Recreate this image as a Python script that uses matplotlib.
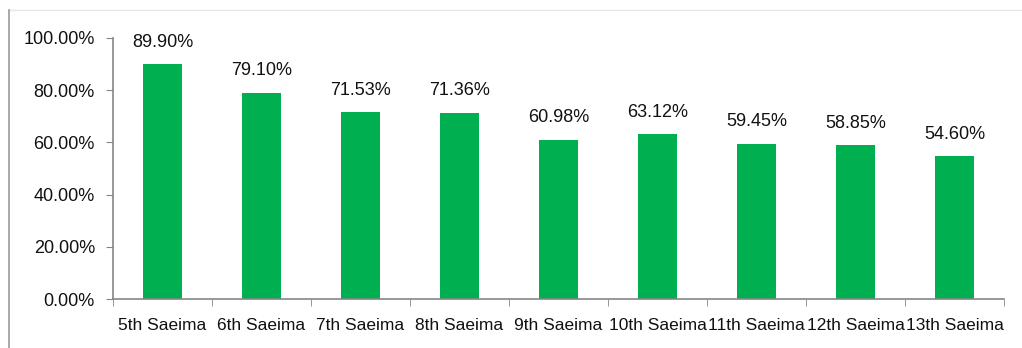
import matplotlib.pyplot as plt
from matplotlib.lines import Line2D
from matplotlib.ticker import FixedLocator, PercentFormatter

# Data
saeimas = ['5th Saeima', '6th Saeima', '7th Saeima', '8th Saeima', '9th Saeima',
           '10th Saeima', '11th Saeima', '12th Saeima', '13th Saeima']
turnout = [89.90, 79.10, 71.53, 71.36, 60.98, 63.12, 59.45, 58.85, 54.60]
y_ticks = [0, 20, 40, 60, 80, 100]

plt.rcParams['font.family'] = ['Liberation Sans Narrow', 'Liberation Sans', 'DejaVu Sans']
plt.rcParams['font.size'] = 12

fig = plt.figure(figsize=(10.22, 3.48), dpi=100)
ax = fig.add_axes([113 / 1022, 1 - 299 / 348, (1004 - 113) / 1022, (299 - 38) / 348])

x = range(len(saeimas))
ax.bar(x, turnout, width=0.4, color='#00B050')

# value labels above the bars
for xi, v in zip(x, turnout):
    ax.text(xi, v + 8.5, f'{v:.2f}%', ha='center', va='center', fontsize=13, color='#111111')

ax.set_xlim(-0.5, len(saeimas) - 0.5)
ax.set_ylim(0, 100)
ax.set_yticks(y_ticks)
ax.yaxis.set_major_formatter(PercentFormatter(decimals=2))

# category labels between boundary ticks
ax.set_xticks(list(x))
ax.set_xticklabels(saeimas)
ax.tick_params(axis='x', which='major', length=0, pad=14, labelsize=12.5, labelcolor='#111111')
ax.xaxis.set_minor_locator(FixedLocator([i - 0.5 for i in range(len(saeimas) + 1)]))
ax.tick_params(axis='x', which='minor', length=5, color='#868686', direction='out')
ax.tick_params(axis='y', length=5, color='#868686', direction='out', pad=8, labelsize=13,
               labelcolor='#111111')

for s in ['top', 'right']:
    ax.spines[s].set_visible(False)
for s in ['left', 'bottom']:
    ax.spines[s].set_color('#868686')
    ax.spines[s].set_linewidth(1.2)

# chart frame remnants
fig.add_artist(Line2D([8 / 1022, 1], [1 - 10 / 348, 1 - 10 / 348], color='#e6e6e6', lw=1))
fig.add_artist(Line2D([9 / 1022, 9 / 1022], [0, 1 - 10 / 348], color='#9a9a9a', lw=1.2))

fig.savefig('out.png', dpi=100)
